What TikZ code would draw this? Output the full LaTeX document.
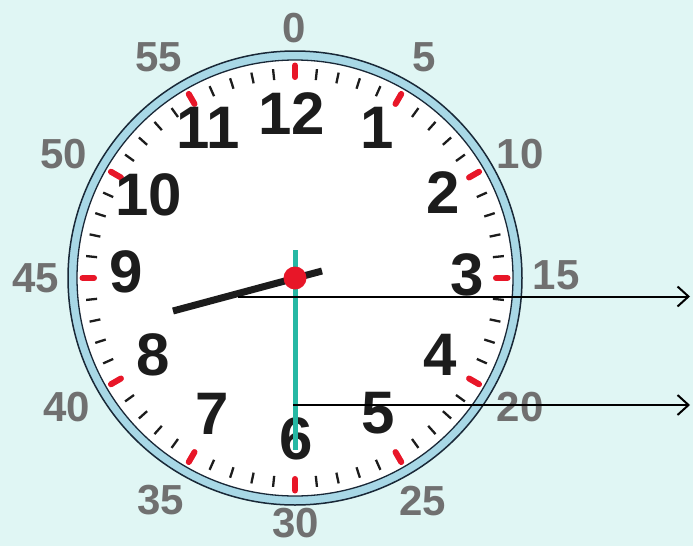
\documentclass[tikz,border=0pt]{standalone}
\usepackage{fontspec}
\setmainfont{Liberation Sans}
\usetikzlibrary{arrows.meta}
\definecolor{bgcyan}{RGB}{224,246,244}
\definecolor{rimblue}{RGB}{168,216,230}
\definecolor{rimline}{RGB}{25,40,55}
\definecolor{tickred}{RGB}{232,22,40}
\definecolor{handteal}{RGB}{38,184,164}
\definecolor{mingray}{RGB}{112,112,112}
\definecolor{hourblack}{RGB}{28,28,28}

\begin{document}
\begin{tikzpicture}[x=1pt, y=-1pt,
    hournum/.style={font=\fontsize{60}{60}\selectfont\bfseries, text=hourblack, inner sep=0pt},
    minnum/.style={font=\fontsize{42}{42}\selectfont\bfseries, text=mingray, inner sep=0pt},
    pointer/.style={line width=2pt, -{Straight Barb[length=11pt,width=20pt]}}]
  % Background
  \fill[bgcyan] (0,0) rectangle (693,546);
  \useasboundingbox (0,0) rectangle (693,546);

  % Rim and face
  \coordinate (c) at (295,278);
  \filldraw[fill=rimblue, draw=rimline, line width=1.5pt] (c) circle (227pt);
  \filldraw[fill=white, draw=rimline, line width=1.3pt] (c) circle (218pt);

  % Minute ticks
  \begin{scope}[shift={(c)}]
    \foreach \m in {0,...,59}
      \draw[hourblack, line width=2.3pt] (\m*6:199) -- (\m*6:210);
    \foreach \m in {0,...,11}
      \draw[tickred, line width=6pt, line cap=round] (\m*30:201) -- (\m*30:212.5);
  \end{scope}

  % Hour numbers
  \node[hournum] (h12) at (292,114) {12};
  \node[hournum] (h1) at (377,128) {1};
  \node[hournum] (h2) at (443,193) {2};
  \node[hournum] (h3) at (467,275) {3};
  \node[hournum] (h4) at (440,355) {4};
  \node[hournum] (h5) at (378,413) {5};
  \node[hournum] (h6) at (296,439) {6};
  \node[hournum] (h7) at (212,414) {7};
  \node[hournum] (h8) at (153,355) {8};
  \node[hournum] (h9) at (126,272) {9};
  \node[hournum] (h10) at (149,195) {10};
  \node[hournum] (h11) at (208,128) {11};

  % Minute numbers
  \node[minnum] (m0) at (294,28) {0};
  \node[minnum] (m5) at (424,57) {5};
  \node[minnum] (m10) at (520,154) {10};
  \node[minnum] (m15) at (556,275) {15};
  \node[minnum] (m20) at (520,407) {20};
  \node[minnum] (m25) at (423,501) {25};
  \node[minnum] (m30) at (296,523) {30};
  \node[minnum] (m35) at (161,500) {35};
  \node[minnum] (m40) at (67,407) {40};
  \node[minnum] (m45) at (36,278) {45};
  \node[minnum] (m50) at (64,154) {50};
  \node[minnum] (m55) at (159,57) {55};

  % Hands
  \coordinate (hourtip) at (173,311);
  \coordinate (hourtail) at (322,271);
  \draw[hourblack, line width=7pt] (hourtip) -- (hourtail);
  \coordinate (mintop) at (295,250);
  \coordinate (minend) at (295,450);
  \draw[handteal, line width=5pt] (mintop) -- (minend);
  \fill[tickred] (c) circle (11.5pt);

  % Arrows
  \coordinate (hourfoot) at (238,296.5);
  \coordinate (hourout) at (690,296.5);
  \coordinate (minfoot) at (293,405);
  \coordinate (minout) at (690,405);
  \draw[pointer] (hourfoot) -- (hourout);
  \draw[pointer] (minfoot) -- (minout);
\end{tikzpicture}
\end{document}
